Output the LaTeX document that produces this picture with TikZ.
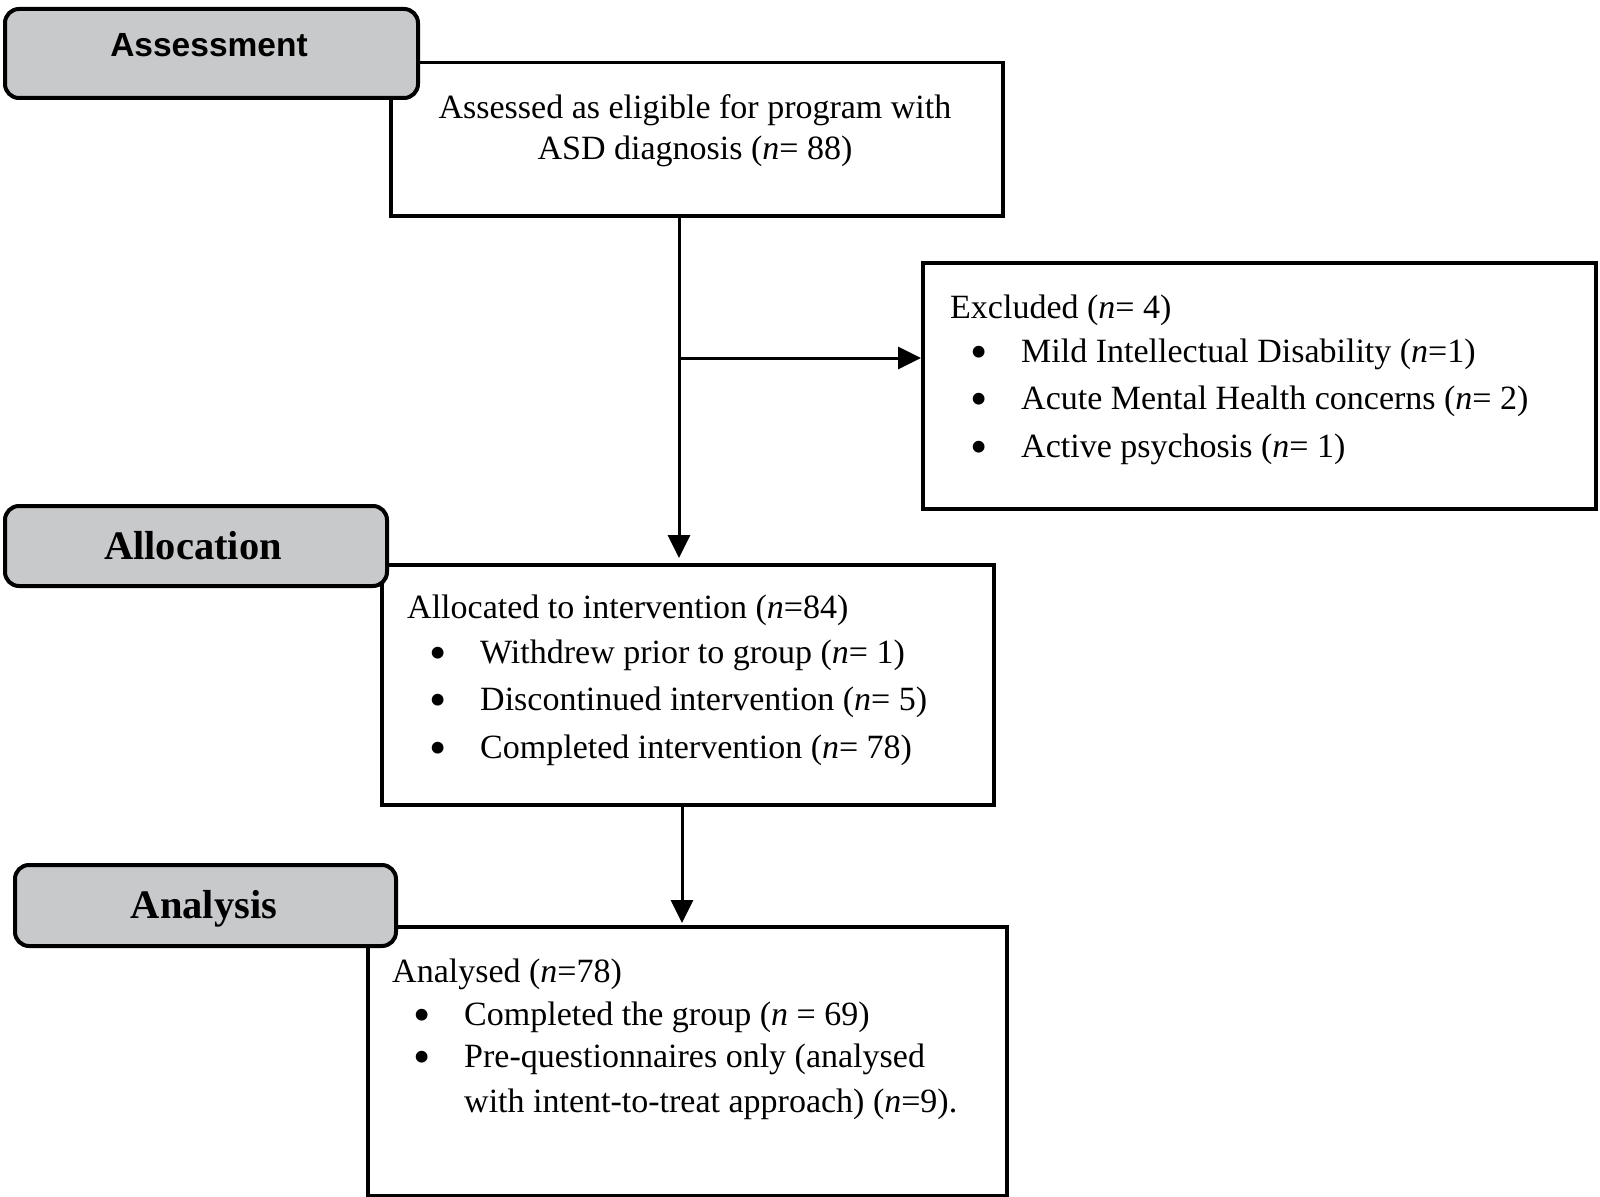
\documentclass[tikz,border=0pt]{standalone}
\usepackage{fontspec}
\setmainfont{Liberation Serif}
\newfontfamily\hdrsans{Liberation Sans}
\usetikzlibrary{arrows.meta}
\definecolor{hdrgray}{RGB}{200,201,203}
\newcommand\bul{\llap{\smash{\raisebox{-6pt}{\scalebox{1.45}{\textbullet}}}\hspace{33pt}}}
\newcommand\nn{\textit{n}}
\begin{document}
\begin{tikzpicture}[x=1pt,y=-1pt,
  box/.style={draw, line width=3.5pt, fill=white, inner sep=0pt, anchor=north west},
  hdr/.style={draw, line width=4pt, fill=hdrgray, rounded corners=14pt, inner sep=0pt, anchor=north west},
  txt/.style={anchor=base west, inner sep=0pt, font=\fontsize{34}{40}\selectfont},
  ctxt/.style={anchor=base, inner sep=0pt, font=\fontsize{34}{40}\selectfont},
  htxt/.style={anchor=base, inner sep=0pt, font=\fontsize{40.5}{48}\selectfont\bfseries},
  arr/.style={-{Triangle[length=23pt,width=22pt]}, line width=3pt}]
\useasboundingbox (0,0) rectangle (1600,1196);

% content boxes
\node[box, minimum width=612pt, minimum height=153pt] (assessed) at (389,61) {};
\node[box, minimum width=673pt, minimum height=246pt] (excluded) at (921,261) {};
\node[box, minimum width=612pt, minimum height=240pt] (allocated) at (380,563) {};
\node[box, minimum width=639pt, minimum height=269pt] (analysed) at (366,925) {};

% header boxes
\node[hdr, minimum width=413pt, minimum height=89pt] (hassess) at (3,7) {};
\node[hdr, minimum width=382pt, minimum height=80pt] (halloc) at (3,504) {};
\node[hdr, minimum width=381pt, minimum height=81pt] (hanal) at (13,863) {};

\node[anchor=base, inner sep=0pt, font=\fontsize{33.5}{40}\selectfont\hdrsans\bfseries] (tassess) at (209,57) {Assessment};
\node[htxt] (talloc) at (193,559) {Allocation};
\node[htxt] (tanal) at (204,918) {Analysis};

% assessed text
\node[ctxt] (a1) at (695,118) {Assessed as eligible for program with};
\node[ctxt] (a2) at (695,159) {ASD diagnosis (\nn= 88)};

% excluded text
\node[txt] (e0) at (950,318) {Excluded (\nn= 4)};
\node[txt] (e1) at (1021,362) {\bul Mild Intellectual Disability (\nn=1)};
\node[txt] (e2) at (1021,409) {\bul Acute Mental Health concerns (\nn= 2)};
\node[txt] (e3) at (1021,457) {\bul Active psychosis (\nn= 1)};

% allocated text
\node[txt] (l0) at (407,618) {Allocated to intervention (\nn=84)};
\node[txt] (l1) at (480,663) {\bul Withdrew prior to group (\nn= 1)};
\node[txt] (l2) at (480,710) {\bul Discontinued intervention (\nn= 5)};
\node[txt] (l3) at (480,758) {\bul Completed intervention (\nn= 78)};

% analysed text
\node[txt] (n0) at (392,982) {Analysed (\nn=78)};
\node[txt] (n1) at (464,1025) {\bul Completed the group (\nn{} = 69)};
\node[txt] (n2) at (464,1067) {\bul Pre-questionnaires only (analysed};
\node[txt] (n3) at (464,1112) {with intent-to-treat approach) (\nn=9).};

% connectors
\coordinate (vx1) at (679,0);
\coordinate (vx2) at (682,0);
\coordinate (branch) at (679,358);
\draw[arr, shorten >=5pt] (assessed.south -| vx1) -- (allocated.north -| vx1);
\draw[arr] (branch) -- (excluded.west |- branch);
\draw[arr, shorten >=2pt] (allocated.south -| vx2) -- (analysed.north -| vx2);
\end{tikzpicture}
\end{document}
